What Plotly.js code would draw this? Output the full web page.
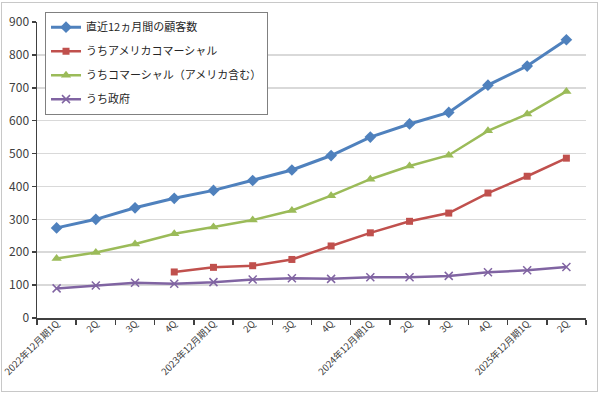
<!DOCTYPE html>
<html><head><meta charset="utf-8">
<script src="https://cdn.plot.ly/plotly-3.0.1.min.js"></script>
<style>
html,body{margin:0;padding:0;background:#fff;}
#wrap{position:relative;width:600px;height:393px;}
#chart{position:absolute;left:0;top:0;width:600px;height:393px;}
#frame{position:absolute;left:1px;top:2px;width:595px;height:388px;border:1px solid #c8c8c8;pointer-events:none;}
</style>
</head><body>
<div id="wrap"><div id="chart"></div><div id="frame"></div></div>
<script>
const categories = ["2022年12月期1Q","2Q","3Q","4Q","2023年12月期1Q","2Q","3Q","4Q","2024年12月期1Q","2Q","3Q","4Q","2025年12月期1Q","2Q"];
const seriesNames = ["直近12ヵ月間の顧客数","うちアメリカコマーシャル","うちコマーシャル（アメリカ含む）","うち政府"];
const totalCustomers = [274, 300, 335, 364, 388, 418, 450, 494, 550, 590, 625, 708, 766, 846];
const usCommercial = [null, null, null, 140, 154, 159, 178, 219, 259, 294, 319, 380, 431, 486];
const commercial = [181, 199, 225, 256, 277, 298, 327, 372, 422, 462, 495, 569, 620, 689];
const government = [90, 99, 107, 104, 109, 117, 121, 119, 124, 124, 128, 139, 145, 155];

const idx = categories.map((_, i) => i);
const font = "'Noto Sans CJK JP', 'Noto Sans', sans-serif";

const traces = [
  {name: seriesNames[0], y: totalCustomers, color: '#4F81BD', symbol: 'diamond', size: 9, width: 3},
  {name: seriesNames[1], y: usCommercial, color: '#C0504D', symbol: 'square', size: 7, width: 2.5},
  {name: seriesNames[2], y: commercial, color: '#9BBB59', symbol: 'triangle-up', size: 9, width: 2.5},
  {name: seriesNames[3], y: government, color: '#8064A2', symbol: 'x-thin-open', size: 8, width: 2.5}
].map((t, i) => ({
  type: 'scatter', mode: 'lines+markers', x: idx, y: t.y, name: t.name,
  legendgroup: 'g' + i,
  line: {color: t.color, width: t.width},
  marker: {color: t.color, symbol: t.symbol, size: t.size, line: {color: t.color, width: t.symbol === 'x-thin-open' ? 1.5 : 0}},
  connectgaps: false
}));

const layout = {
  width: 600, height: 393,
  margin: {l: 37, r: 14, t: 15, b: 75},
  paper_bgcolor: '#ffffff', plot_bgcolor: '#ffffff',
  font: {family: font, size: 11, color: '#404040'},
  showlegend: true,
  legend: {
    x: 0.0146, y: 1.035, xanchor: 'left', yanchor: 'top',
    bordercolor: '#808080', borderwidth: 1, bgcolor: '#ffffff',
    font: {family: font, size: 11, color: '#262626'},
    traceorder: 'grouped', tracegroupgap: 5
  },
  xaxis: {
    type: 'linear', range: [-0.5, categories.length - 0.5],
    tickmode: 'array', tickvals: idx, ticktext: categories,
    tickangle: -45, ticks: '', ticklen: 0,
    ticklabeloverflow: 'allow', ticklabelstandoff: -5,
    tickfont: {family: font, size: 9.5, color: '#404040'},
    showgrid: false, zeroline: false,
    showline: true, linecolor: '#404040', linewidth: 1.5,
    minor: {tick0: -0.5, dtick: 1, ticks: 'outside', ticklen: 5, tickcolor: '#404040', tickwidth: 1.5, showgrid: false}
  },
  yaxis: {
    range: [0, 900], dtick: 100, tick0: 0,
    ticks: 'outside', ticklen: 4, tickcolor: '#404040', tickwidth: 1.5,
    tickfont: {family: font, size: 12, color: '#404040'},
    showgrid: true, gridcolor: '#d9d9d9', gridwidth: 1.5,
    zeroline: false, showline: true, linecolor: '#404040', linewidth: 1.5
  }
};

Plotly.newPlot('chart', traces, layout, {displayModeBar: false, staticPlot: true});
</script>
</body></html>
